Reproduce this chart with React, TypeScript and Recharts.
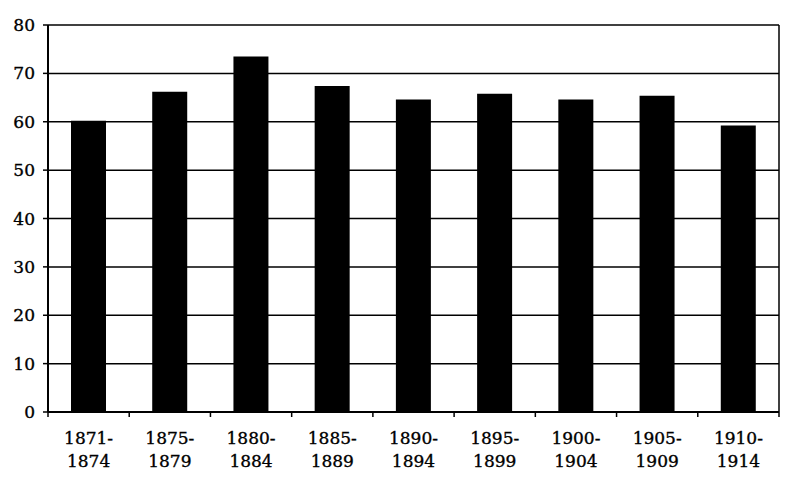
import React from "react";
import { BarChart, Bar, XAxis, YAxis, CartesianGrid, ReferenceLine } from "recharts";

const periods = [
  "1871-1874",
  "1875-1879",
  "1880-1884",
  "1885-1889",
  "1890-1894",
  "1895-1899",
  "1900-1904",
  "1905-1909",
  "1910-1914",
];
const values = [60.2, 66.2, 73.5, 67.4, 64.6, 65.8, 64.6, 65.4, 59.2];
const yTicks = [0, 10, 20, 30, 40, 50, 60, 70, 80];

const data = periods.map((p, i) => ({ period: p, value: values[i], pos: i + 0.5 }));
// ticks at category boundaries (integers) and category centres (halves)
const xTicks: number[] = [];
for (let i = 0; i <= periods.length * 2; i++) xTicks.push(i / 2);

const FONT = "'DejaVu Serif', serif";

const XTick = (props: any) => {
  const { x, y, payload } = props;
  const v = Number(payload.value);
  if (Number.isInteger(v)) {
    return <line x1={x} x2={x} y1={y} y2={y + 5} stroke="#000" strokeWidth={1.5} />;
  }
  const label = periods[Math.floor(v)] || "";
  const [a, b] = label.split("-");
  const common = {
    textAnchor: "middle" as const,
    fontFamily: FONT,
    fontSize: 17,
    fill: "#000",
    stroke: "#000",
    strokeWidth: 0.35,
  };
  return (
    <g>
      <text x={x} y={y + 32} {...common}>
        {a + "-"}
      </text>
      <text x={x} y={y + 55} {...common}>
        {b}
      </text>
    </g>
  );
};

export default function App() {
  return (
    <div style={{ position: "absolute", left: 0, top: 0, background: "#fff" }}>
      <BarChart
        width={800}
        height={489}
        data={data}
        margin={{ top: 25, right: 21, left: 0, bottom: 0 }}
      >
        <CartesianGrid vertical={false} stroke="#000" strokeWidth={1.5} />
        <XAxis
          type="number"
          dataKey="pos"
          domain={[0, periods.length]}
          ticks={xTicks}
          allowDataOverflow
          interval={0}
          tickLine={false}
          tickSize={0}
          tickMargin={0}
          height={77}
          axisLine={{ stroke: "#000", strokeWidth: 2 }}
          tick={XTick}
        />
        <YAxis
          width={48}
          domain={[0, 80]}
          ticks={yTicks}
          interval={0}
          tickSize={5}
          tickMargin={8}
          axisLine={{ stroke: "#000", strokeWidth: 2 }}
          tickLine={{ stroke: "#000", strokeWidth: 1.5 }}
          tick={{ fontFamily: FONT, fontSize: 17, fill: "#000", stroke: "#000", strokeWidth: 0.35 }}
        />
        <ReferenceLine x={periods.length} stroke="#000" strokeWidth={1.5} />
        <Bar dataKey="value" fill="#000" barSize={35} isAnimationActive={false} />
      </BarChart>
    </div>
  );
}
